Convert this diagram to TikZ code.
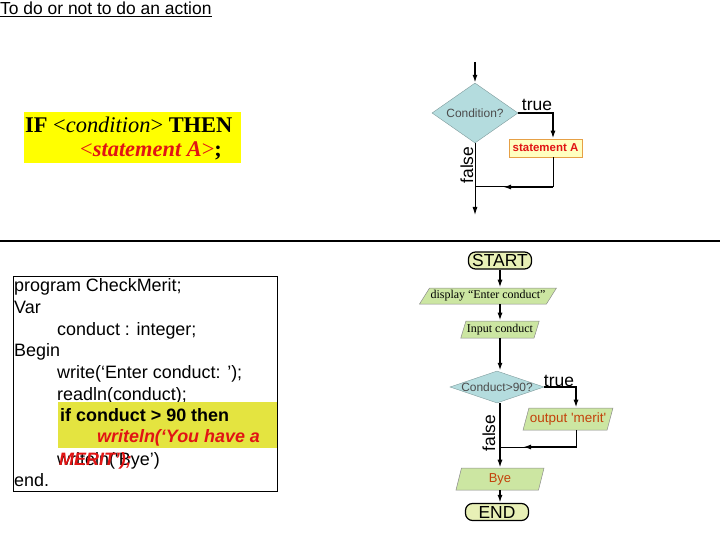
\documentclass[tikz,border=0pt]{standalone}
\usepackage{fontspec}
\setmainfont{Liberation Serif}
\newfontfamily\arialfont{Liberation Sans}
\usetikzlibrary{shapes.geometric,arrows.meta}

\definecolor{ifyellow}{RGB}{255,255,0}
\definecolor{hilite}{RGB}{228,228,64}
\definecolor{qfill}{RGB}{180,220,222}
\definecolor{iofill}{RGB}{204,230,162}
\definecolor{termfill}{RGB}{232,240,182}
\definecolor{stmtfill}{RGB}{255,255,192}
\definecolor{stmtdraw}{RGB}{230,160,70}
\definecolor{codered}{RGB}{225,20,20}
\definecolor{outred}{RGB}{195,65,10}

\newcommand*{\codex}{14}
\newcommand*{\tabx}{57}

\begin{document}
\begin{tikzpicture}
[
	x=1bp,
	y=-1bp,
	flow/.style={-{Latex[length=8bp,width=5bp]},line width=1.8bp},
	thinflow/.style={-{Latex[length=8bp,width=5bp]},line width=1bp},
	decision/.style={diamond,fill=qfill,draw=qfill!70!black,line width=0.4bp,inner sep=0pt},
	qtext/.style={font=\arialfont\fontsize{12}{14}\selectfont,text=black!70},
	io/.style={trapezium,trapezium left angle=68,trapezium right angle=112,trapezium stretches body,fill=iofill,draw=black!45,line width=0.5bp,inner sep=1bp,minimum height=22bp},
	term/.style={rectangle,rounded corners=7bp,fill=termfill,draw=black,line width=1.2bp,minimum width=63bp,minimum height=17bp,inner sep=0pt,font=\arialfont\fontsize{17.5}{18}\selectfont},
	yesno/.style={inner sep=0pt,font=\arialfont\fontsize{17.5}{18}\selectfont},
	codetext/.style={anchor=west,inner sep=0pt,font=\arialfont\fontsize{18}{22}\selectfont,text height=13bp,text depth=4bp}
]
	\useasboundingbox (0,0) rectangle (720,540);

	% heading
	\node[anchor=west,inner sep=0pt,font=\arialfont\fontsize{17.5}{20}\selectfont] (title) at (0,9) {\underline{To do or not to do an action}};

	% rule
	\fill[ifyellow] (24,112) rectangle (241,163);
	\node[anchor=west,inner sep=0pt,font=\fontsize{22.5}{24}\selectfont] (ifline) at (25,125) {\textbf{IF} <\textit{condition}> \textbf{THEN}};
	\node[anchor=west,inner sep=0pt,font=\fontsize{22.5}{24}\selectfont] (thenline) at (80,151) {\textcolor{codered}{<\textbf{\textit{statement A}}>}\textbf{;}};

	% small chart
	\coordinate (topin) at (475,62);
	\node[decision,minimum width=86bp,minimum height=60bp,label={[qtext]center:Condition?}] (cond1) at (475,113) {};
	\node[rectangle,fill=stmtfill,draw=stmtdraw,line width=0.6bp,minimum width=73bp,minimum height=18bp,inner sep=0pt,text=codered,font=\arialfont\bfseries\fontsize{11.5}{12}\selectfont] (stmtA) at (545.5,148) {statement A};
	\node[yesno] (true1) at (537,105) {true};
	\node[yesno,rotate=90] (false1) at (467,165) {false};
	\coordinate (join1) at (475,187);
	\coordinate (mid1) at (503,187);
	\coordinate (topout) at (475,215);

	\draw[thinflow,line width=1.5bp] (topin) -- (cond1.north);
	\draw[flow] (cond1.east) -| ([xshift=7.5bp]stmtA.north);
	\draw[line width=1bp] ([xshift=7.5bp]stmtA.south) |- (join1);
	\draw[flow] ([xshift=7.5bp]stmtA.south |- join1) -- (mid1);
	\draw[thinflow] (cond1.south) -- (topout);

	\draw[line width=1.5bp] (0,241) -- (720,241);

	% flowchart
	\node[term] (start) at (500,260.5) {START};
	\node[io,trapezium left angle=52,trapezium right angle=128,minimum height=16bp,minimum width=100bp,font=\fontsize{12}{13}\selectfont] (disp) at (488,296) {display “Enter conduct”};
	\node[io,minimum height=17bp,minimum width=62bp,font=\fontsize{12}{13}\selectfont] (inp) at (500,329.5) {Input conduct};
	\node[decision,minimum width=94bp,minimum height=32bp,label={[qtext]center:Conduct>90?}] (cond2) at (497,387) {};
	\node[io,minimum width=76bp,text=outred,font=\arialfont\fontsize{13.5}{14}\selectfont] (outp) at (568,419) {output \textquotesingle merit\textquotesingle};
	\node[io,minimum width=88bp,text=outred,font=\arialfont\fontsize{13}{14}\selectfont] (bye) at (500,479) {Bye};
	\node[term] (finish) at (497,512) {END};
	\node[yesno] (true2) at (559,381) {true};
	\node[yesno,rotate=90] (false2) at (489,433) {false};
	\coordinate (join2) at (499,447);
	\coordinate (mid2) at (523,447);

	\draw[flow] (start.south) -- (start.south |- disp.north);
	\draw[flow] (start.south |- disp.south) -- (start.south |- inp.north);
	\draw[flow] (start.south |- inp.south) -- (start.south |- cond2.north);
	\draw[flow,line width=2.5bp] (cond2.east) -| ([xshift=8bp]outp.north);
	\draw[line width=1bp] ([xshift=8bp]outp.south) |- (join2);
	\draw[flow,line width=2.5bp] ([xshift=8bp]outp.south |- join2) -- (mid2);
	\draw[thinflow,line width=1.5bp] (start.south |- cond2.south) -- (start.south |- bye.north);
	\draw[flow] (start.south |- bye.south) -- (start.south |- finish.north);

	% listing
	\node[codetext] (l1) at (\codex,287) {program CheckMerit;};
	\node[codetext] (l2) at (\codex,309) {Var};
	\node[codetext] (l3) at (\tabx,331) {conduct : integer;};
	\node[codetext] (l4) at (\codex,352) {Begin};
	\node[codetext] (l5) at (\tabx,374) {write(‘Enter conduct: ’);};
	\node[codetext] (l6) at (\tabx,396) {readln(conduct);};
	\node[codetext] (l9) at (\tabx,461) {writeln(‘Bye’)};
	\node[codetext] (l10) at (\codex,482) {end.};
	\fill[hilite] (58,402) rectangle (277,448);
	\node[codetext,font=\arialfont\bfseries\fontsize{18}{22}\selectfont] (hl1) at (60,417) {if conduct > 90 then};
	\node[codetext,text=codered,font=\arialfont\bfseries\itshape\fontsize{18}{22}\selectfont] (hl2) at (97,438) {writeln(‘You have a};
	\node[codetext,text=codered,font=\arialfont\bfseries\itshape\fontsize{18}{22}\selectfont] (hl3) at (59,461) {MERIT’);};
	\draw[line width=1bp] (13,276) rectangle (277,491);

\end{tikzpicture}
\end{document}
